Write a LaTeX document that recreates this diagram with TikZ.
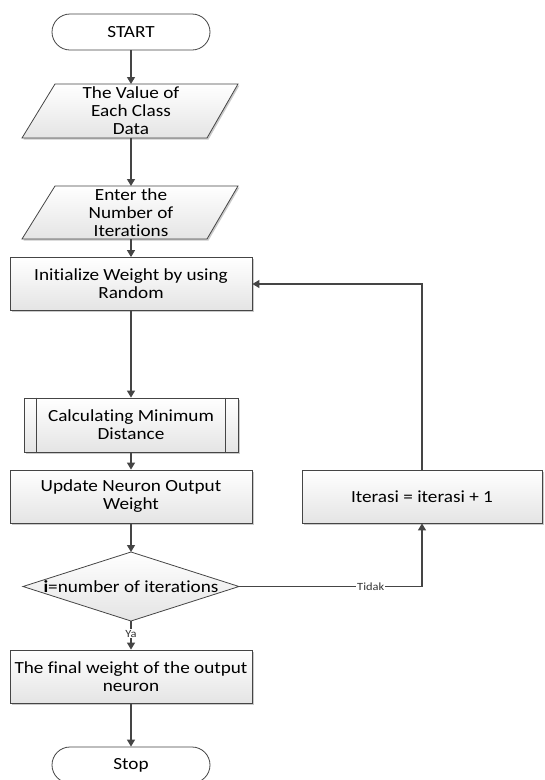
\documentclass[tikz,border=0pt]{standalone}
\usepackage{fontspec}
\setmainfont{Carlito}[FakeStretch=1.13,Ligatures={NoCommon}]
\usetikzlibrary{shapes.misc,shadows,arrows.meta}
\definecolor{edge}{HTML}{454545}
\definecolor{boxbot}{HTML}{E4E4E4}
\begin{document}
\begin{tikzpicture}[x=1pt,y=-1pt,
  shd/.style={drop shadow={shadow xshift=1.5pt,shadow yshift=-1.5pt,opacity=0.35,fill=black!60}},
  fillg/.style={draw=edge,line width=0.8pt,top color=white,bottom color=boxbot},
  txt/.style={align=center,font=\fontsize{17}{18}\selectfont,inner sep=0pt},
  box/.style={fillg,shd,txt,rectangle,minimum width=242pt,minimum height=53pt},
  term/.style={draw=edge,line width=0.8pt,fill=white,rounded rectangle,txt,minimum width=158pt,minimum height=36pt},
  arr/.style={draw=edge,line width=1.1pt,-{Triangle[length=7pt,width=8pt]}},
  lbl/.style={fill=white,inner sep=1pt,font=\fontsize{11}{12}\selectfont,text=black!80}
]
\useasboundingbox (0,0) rectangle (545,780);

% START
\node[term] (start) at (131,32) {START};

% parallelogram 1
\path[fillg,shd] (55,84) -- (238,84) -- (207,138) -- (22,138) -- cycle;
\coordinate (p1top) at (131,84);
\coordinate (p1bot) at (131,138);
\node[txt] (p1) at (131,111) {The Value of\\Each Class\\Data};

% parallelogram 2
\path[fillg,shd] (55,186) -- (238,186) -- (207,239) -- (22,239) -- cycle;
\coordinate (p2top) at (131,186);
\coordinate (p2bot) at (131,239);
\node[txt] (p2) at (131,212.5) {Enter the\\Number of\\Iterations};

% Initialize
\node[box] (init) at (131,284) {Initialize Weight by using\\Random};

% Calculating (predefined process)
\node[box,minimum width=214pt,minimum height=54pt] (calc) at (131,425) {Calculating Minimum\\Distance};
\draw[edge,line width=0.8pt] ([xshift=13pt]calc.north west) -- ([xshift=13pt]calc.south west);
\draw[edge,line width=0.8pt] ([xshift=-13pt]calc.north east) -- ([xshift=-13pt]calc.south east);

% Update
\node[box] (upd) at (131,496.5) {Update Neuron Output\\Weight};

% Iterasi
\node[box,minimum width=240pt] (iter) at (422,496.5) {Iterasi = iterasi + 1};

% Decision
\path[fillg] (131,552) -- (239,586.5) -- (131,621) -- (23,586.5) -- cycle;
\coordinate (dtop) at (131,552);
\coordinate (dbot) at (131,621);
\coordinate (dright) at (239,586.5);
\node[txt] (dec) at (131,586.5) {\textbf{i}=number of iterations};

% Final
\node[box] (fin) at (131,676.5) {The final weight of the output\\neuron};

% Stop
\node[term] (stop) at (131,765) {Stop};

% connectors
\draw[arr] (start.south) -- (p1top);
\draw[arr] (p1bot) -- (p2top);
\draw[arr] (p2bot) -- (init.north);
\draw[arr] (init.south) -- (calc.north);
\draw[arr] (calc.south) -- (upd.north);
\draw[arr] (upd.south) -- (dtop);
\draw[arr] (dbot) -- node[lbl,pos=0.45] {Ya} (fin.north);
\draw[arr] (fin.south) -- (stop.north);
\coordinate (tk) at (iter.south |- dright);
\draw[arr] (dright) -- node[lbl,pos=0.72] {Tidak} (tk) -- (iter.south);
\coordinate (lp) at (iter.north |- init.east);
\draw[arr] (iter.north) -- (lp) -- (init.east);
\end{tikzpicture}
\end{document}
